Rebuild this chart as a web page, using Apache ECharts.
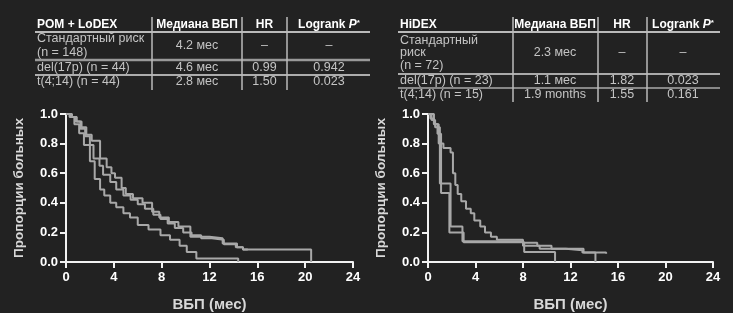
<!DOCTYPE html>
<html>
<head>
<meta charset="utf-8">
<script src="https://cdn.jsdelivr.net/npm/echarts@6/dist/echarts.min.js"></script>
<style>
  html, body { margin: 0; padding: 0; background: #222; }
  #chart { width: 733px; height: 313px; }
</style>
</head>
<body>
<div id="chart"></div>
<script>
// POM + LoDEX, Kaplan-Meier (months, proportion)
const lodexStdT = [0, 0.4, 0.8, 1.2, 1.6, 2.0, 2.3, 2.8, 3.1, 3.7, 4.2, 4.8, 5.4, 6.0, 6.6, 7.3, 7.9, 8.5, 9.1, 9.8, 10.5, 11.3, 12.2, 13.2, 14.2, 14.8, 20.5];
const lodexStdS = [1, 0.98, 0.95, 0.90, 0.85, 0.79, 0.70, 0.65, 0.59, 0.54, 0.49, 0.45, 0.42, 0.39, 0.36, 0.32, 0.29, 0.26, 0.23, 0.20, 0.18, 0.16, 0.15, 0.12, 0.10, 0.085, 0];
const lodexDelT = [0, 0.5, 0.9, 1.3, 1.7, 2.15, 2.85, 3.4, 3.8, 4.1, 4.65, 5.0, 5.6, 6.4, 7.2, 7.8, 8.6, 9.4, 10.4, 12.0, 13.1, 14.3, 14.8, 15.2];
const lodexDelS = [1, 0.98, 0.95, 0.91, 0.86, 0.82, 0.70, 0.64, 0.60, 0.57, 0.50, 0.46, 0.43, 0.40, 0.34, 0.30, 0.27, 0.24, 0.17, 0.16, 0.125, 0.10, 0.085, 0.085];
const lodexT414T = [0, 0.3, 0.7, 1.1, 1.5, 2.0, 2.4, 2.85, 3.2, 3.7, 4.2, 4.8, 5.35, 6.0, 6.9, 7.9, 8.7, 9.5, 10.1, 10.9, 14.4];
const lodexT414S = [1, 0.98, 0.93, 0.87, 0.79, 0.68, 0.56, 0.49, 0.45, 0.40, 0.37, 0.33, 0.30, 0.25, 0.22, 0.18, 0.15, 0.11, 0.068, 0.023, 0];

// HiDEX
const hidexStdT = [0, 0.2, 0.5, 0.9, 1.3, 1.9, 2.1, 2.3, 2.5, 2.8, 3.2, 3.6, 3.9, 4.4, 4.8, 5.3, 5.8, 8.0, 9.2, 10.4, 11.6, 13.0, 15.0];
const hidexStdS = [1, 0.97, 0.93, 0.80, 0.77, 0.74, 0.60, 0.52, 0.46, 0.41, 0.36, 0.33, 0.28, 0.24, 0.20, 0.17, 0.15, 0.13, 0.11, 0.09, 0.08, 0.065, 0.055];
const hidexDelT = [0, 0.3, 0.6, 1.0, 1.9, 2.9, 8.0, 9.4, 13.1, 14.1];
const hidexDelS = [1, 0.96, 0.91, 0.53, 0.24, 0.14, 0.11, 0.09, 0.065, 0];
const hidexT414T = [0, 0.5, 0.8, 1.1, 1.8, 3.0, 8.1, 10.7];
const hidexT414S = [1, 0.933, 0.867, 0.467, 0.2, 0.133, 0.067, 0];

// tables
const leftHead = ['POM + LoDEX', 'Медиана ВБП', 'HR', 'Logrank {i|P}{s|*}'];
const leftRows = [
  ['Стандартный риск\n(n = 148)', '4.2 мес', '–', '–'],
  ['del(17p) (n = 44)', '4.6 мес', '0.99', '0.942'],
  ['t(4;14) (n = 44)', '2.8 мес', '1.50', '0.023']
];
const rightHead = ['HiDEX', 'Медиана ВБП', 'HR', 'Logrank {i|P}{s|*}'];
const rightRows = [
  ['Стандартный\nриск\n(n = 72)', '2.3 мес', '–', '–'],
  ['del(17p) (n = 23)', '1.1 мес', '1.82', '0.023'],
  ['t(4;14) (n = 15)', '1.9 months', '1.55', '0.161']
];

const FONT = '"Liberation Sans", Arial, sans-serif';
const zip = (t, s) => t.map((v, i) => [v, s[i]]);

function buildTable(head, rows, c) {
  const els = [];
  const rich = {
    i: { fontStyle: 'italic', fontWeight: 'bold', fontSize: 12, fill: '#fff', fontFamily: FONT },
    s: { fontSize: 8, fontWeight: 'bold', fill: '#fff', verticalAlign: 'top', fontFamily: FONT }
  };
  head.forEach((h, j) => {
    els.push({
      type: 'text', x: j === 0 ? c.x0 : c.cx[j - 1], y: c.headY,
      style: { text: h, rich, fill: '#fff', font: 'bold 12px ' + FONT,
        align: j === 0 ? 'left' : 'center', verticalAlign: 'middle' }
    });
  });
  rows.forEach((r, i) => {
    r.forEach((cell, j) => {
      els.push({
        type: 'text', x: j === 0 ? c.x0 : c.cx[j - 1], y: c.rowY[i],
        style: { text: cell, fill: '#c4c4c4', font: '12.5px ' + FONT, lineHeight: c.lh,
          align: j === 0 ? 'left' : 'center', verticalAlign: 'middle' }
      });
    });
  });
  c.hLines.forEach(l => {
    els.push({ type: 'line', shape: { x1: c.left, y1: l.y, x2: c.right, y2: l.y },
      style: { stroke: l.color, lineWidth: l.w } });
  });
  c.vLines.forEach(x => {
    els.push({ type: 'line', shape: { x1: x, y1: c.top, x2: x, y2: c.bottom },
      style: { stroke: '#bbb', lineWidth: 1.5 } });
  });
  return els;
}

const graphics = [].concat(
  buildTable(leftHead, leftRows, {
    x0: 37, cx: [197, 264.5, 329], headY: 25, rowY: [46, 68, 82], lh: 14,
    left: 35, right: 370, top: 17, bottom: 90,
    hLines: [{ y: 32, color: '#eee', w: 1.5 }, { y: 60, color: '#999', w: 2.5 }, { y: 75, color: '#ddd', w: 1.5 }],
    vLines: [152, 242, 287]
  }),
  buildTable(rightHead, rightRows, {
    x0: 400, cx: [555, 622, 683], headY: 25, rowY: [53, 81, 95], lh: 12.5,
    left: 398, right: 720, top: 17, bottom: 102,
    hLines: [{ y: 32, color: '#eee', w: 1.5 }, { y: 74, color: '#aaa', w: 2 }, { y: 88, color: '#aaa', w: 1.5 }],
    vLines: [513, 598, 647]
  })
);

const axisColor = '#f2f2f2';
function xAx(idx) {
  return {
    type: 'value', gridIndex: idx, min: 0, max: 24, interval: 4,
    name: 'ВБП (мес)', nameLocation: 'middle', nameGap: 35,
    nameTextStyle: { color: '#d8d8d8', fontSize: 15, fontWeight: 'bold', fontFamily: FONT },
    axisLine: { show: true, lineStyle: { color: axisColor, width: 2 } },
    axisTick: { show: true, length: 6, lineStyle: { color: axisColor, width: 2 } },
    axisLabel: { color: '#fff', fontSize: 13, fontWeight: 'bold', fontFamily: FONT, margin: 9 },
    splitLine: { show: false }
  };
}
function yAx(idx) {
  return {
    type: 'value', gridIndex: idx, min: 0, max: 1, interval: 0.2,
    name: 'Пропорции больных', nameLocation: 'middle', nameGap: 40, nameRotate: 90,
    nameTextStyle: { color: '#d8d8d8', fontSize: 13.5, fontWeight: 'bold', fontFamily: FONT },
    axisLine: { show: true, lineStyle: { color: axisColor, width: 2 } },
    axisTick: { show: true, length: 6, lineStyle: { color: axisColor, width: 2 } },
    axisLabel: { color: '#fff', fontSize: 13, fontWeight: 'bold', fontFamily: FONT, margin: 8,
      formatter: v => v.toFixed(1) },
    splitLine: { show: false }
  };
}
function km(data, idx) {
  return {
    type: 'line', step: 'end', xAxisIndex: idx, yAxisIndex: idx, data,
    symbol: 'none', lineStyle: { color: '#a8a8a8', width: 2 }
  };
}

const chart = echarts.init(document.getElementById('chart'));
chart.setOption({
  backgroundColor: '#222',
  animation: false,
  grid: [
    { left: 66, right: 380, top: 114, bottom: 51 },
    { left: 428, right: 20, top: 114, bottom: 51 }
  ],
  xAxis: [xAx(0), xAx(1)],
  yAxis: [yAx(0), yAx(1)],
  series: [
    km(zip(lodexStdT, lodexStdS), 0),
    km(zip(lodexDelT, lodexDelS), 0),
    km(zip(lodexT414T, lodexT414S), 0),
    km(zip(hidexStdT, hidexStdS), 1),
    km(zip(hidexDelT, hidexDelS), 1),
    km(zip(hidexT414T, hidexT414S), 1)
  ],
  graphic: graphics
});
</script>
</body>
</html>
